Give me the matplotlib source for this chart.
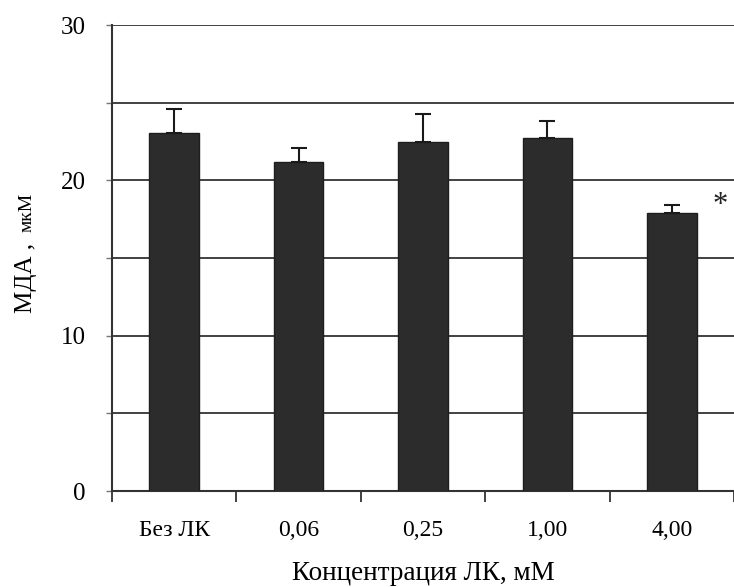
import matplotlib

matplotlib.use("Agg")

import matplotlib.pyplot as plt
import numpy as np

plt.rcParams["font.family"] = ["Liberation Serif", "DejaVu Serif"]

# Data
categories = ["Без ЛК", "0,06", "0,25", "1,00", "4,00"]
mda_mean = [23.05, 21.2, 22.5, 22.7, 17.9]
mda_err = [1.55, 0.9, 1.8, 1.1, 0.5]
marked = [False, False, False, False, True]  # significant difference (*)

BAR_COLOR = "#2c2c2c"
LINE_COLOR = "#333333"

fig = plt.figure(figsize=(7.34, 5.87), dpi=100)
ax = fig.add_axes([0.1526, 0.1635, 0.8474, 0.7939])

x = np.arange(len(categories))
ax.bar(x, mda_mean, width=0.4, color=BAR_COLOR, edgecolor="#1e1e1e", linewidth=1, zorder=3)
ax.errorbar(x, mda_mean, yerr=[np.zeros(len(x)), mda_err], fmt="none",
            ecolor="#1a1a1a", elinewidth=1.5, capsize=6, capthick=1.5, zorder=4)

for xi, m, e, flag in zip(x, mda_mean, mda_err, marked):
    if flag:
        ax.text(xi + 0.39, m + e, "*", fontsize=22, ha="center", va="center", color="#222222")

ax.set_xlim(-0.5, 4.464)
ax.set_ylim(0, 30)

ax.set_yticks([0, 10, 20, 30])
ax.set_yticks([5, 15, 25], minor=True)
ax.yaxis.grid(True, which="both", color=LINE_COLOR, linewidth=1.3, zorder=0)
ax.tick_params(axis="y", which="both", length=4, width=1, color="#777777", labelsize=18, pad=15)

ax.set_xticks(x)
ax.set_xticklabels(categories)
ax.set_xticks(np.arange(-0.5, len(x), 1.0), minor=True)
ax.tick_params(axis="x", which="major", length=0, labelsize=17, pad=21)
ax.tick_params(axis="x", which="minor", length=8, width=1.3, color=LINE_COLOR)

for side in ("top", "right"):
    ax.spines[side].set_visible(False)
for side in ("left", "bottom"):
    ax.spines[side].set_color(LINE_COLOR)
    ax.spines[side].set_linewidth(1.5)

ax.set_xlabel("Концентрация ЛК, мМ", fontsize=19.5, labelpad=14)

# y-label: "МДА ," in a larger size, "мкМ" smaller, sharing one baseline
fig.text(32 / 734, 1 - 313 / 587, "МДА ,", rotation=90, rotation_mode="anchor",
         ha="left", va="baseline", fontsize=18)
fig.text(32 / 734, 1 - 232 / 587, "мкМ", rotation=90, rotation_mode="anchor",
         ha="left", va="baseline", fontsize=14)

fig.savefig("out.png", dpi=100, facecolor="white")
